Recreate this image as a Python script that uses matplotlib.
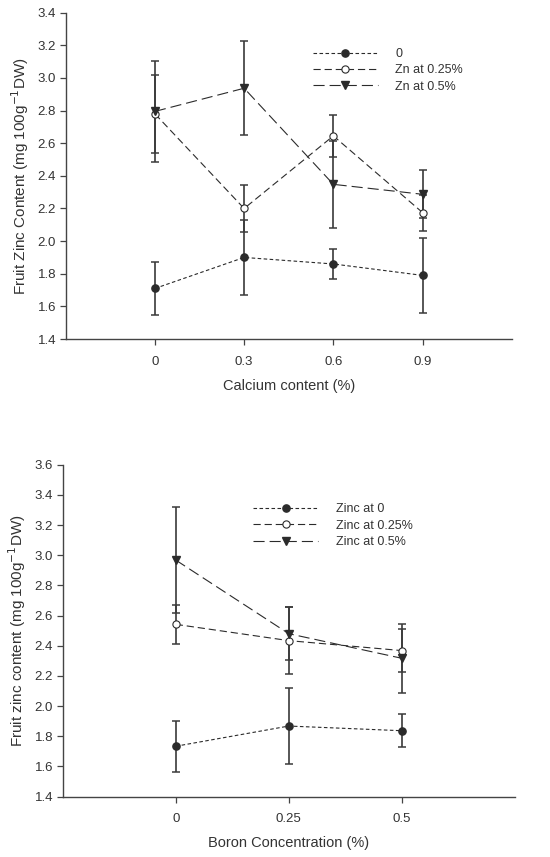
import matplotlib
matplotlib.use('Agg')
import matplotlib.pyplot as plt
import numpy as np

plt.rcParams['font.family'] = ['Liberation Sans', 'DejaVu Sans']

# top panel: calcium
ca_x = [0, 0.3, 0.6, 0.9]
ca_zn0 = [1.71, 1.90, 1.86, 1.79]
ca_zn0_err = [0.16, 0.23, 0.09, 0.23]
ca_zn25 = [2.78, 2.20, 2.645, 2.175]
ca_zn25_err = [0.24, 0.145, 0.13, 0.11]
ca_zn50 = [2.795, 2.937, 2.348, 2.287]
ca_zn50_err = [0.31, 0.288, 0.268, 0.146]
ca_labels = ['0', 'Zn at 0.25%', 'Zn at 0.5%']
ca_ticks = ['0', '0.3', '0.6', '0.9']

# bottom panel: boron
b_x = [0, 0.25, 0.5]
b_zn0 = [1.734, 1.868, 1.837]
b_zn0_err = [0.168, 0.25, 0.108]
b_zn25 = [2.542, 2.434, 2.368]
b_zn25_err = [0.128, 0.22, 0.14]
b_zn50 = [2.968, 2.480, 2.317]
b_zn50_err = [0.35, 0.177, 0.23]
b_labels = ['Zinc at 0', 'Zinc at 0.25%', 'Zinc at 0.5%']
b_ticks = ['0', '0.25', '0.5']

ink = '#2b2b2b'
dashes = [(0, (3.2, 2.2)), (0, (6.5, 3.5)), (0, (10, 4.5))]
markers = [dict(marker='o', mfc=ink, mec=ink, ms=5.2),
           dict(marker='o', mfc='white', mec=ink, ms=5.2, mew=0.8),
           dict(marker='v', mfc=ink, mec=ink, ms=5.6)]

fig = plt.figure(figsize=(5.5, 8.57), dpi=100)


def panel(ax, x, ys, errs, labels, ticks, xlim, ylim, yticks, xlabel, ylabel, leg_anchor):
    handles = []
    for i, (y, e) in enumerate(zip(ys, errs)):
        ax.errorbar(x, y, yerr=e, fmt='none', ecolor='#3a3a3a', elinewidth=1.2,
                    capsize=3.2, capthick=1.1, zorder=2)
        h, = ax.plot(x, y, color=ink, lw=0.8, linestyle=dashes[i], zorder=3,
                     label=labels[i], **markers[i])
        handles.append(h)
    ax.set_xlim(*xlim)
    ax.set_ylim(*ylim)
    ax.set_xticks(x)
    ax.set_xticklabels(ticks)
    ax.set_yticks(yticks)
    ax.set_yticklabels(['%.1f' % v for v in yticks])
    for s in ['top', 'right']:
        ax.spines[s].set_visible(False)
    for s in ['left', 'bottom']:
        ax.spines[s].set_color('#444444')
        ax.spines[s].set_linewidth(1.0)
    ax.tick_params(direction='out', length=4, width=0.9, color='#444444',
                   labelsize=9.5, labelcolor='#333333', pad=3)
    ax.tick_params(axis='x', pad=8)
    ax.set_xlabel(xlabel, fontsize=10.5, color='#333333', labelpad=8)
    ax.set_ylabel(ylabel, fontsize=11, color='#333333', labelpad=5)
    ax.legend(handles=handles, loc='upper left', bbox_to_anchor=leg_anchor,
              frameon=False, fontsize=9, handlelength=5.2, handletextpad=1.4,
              labelspacing=0.35, labelcolor='#333333')


ax1 = fig.add_axes([0.1195, 0.6044, 0.811, 0.3808])
panel(ax1, ca_x, [ca_zn0, ca_zn25, ca_zn50], [ca_zn0_err, ca_zn25_err, ca_zn50_err],
      ca_labels, ca_ticks, (-0.3, 1.2), (1.4, 3.4), np.arange(1.4, 3.41, 0.2),
      'Calcium content (%)',
      'Fruit Zinc Content (mg 100g$^{-1}$DW)', (0.529, 0.926))

ax2 = fig.add_axes([0.114, 0.0704, 0.822, 0.3874])
panel(ax2, b_x, [b_zn0, b_zn25, b_zn50], [b_zn0_err, b_zn25_err, b_zn50_err],
      b_labels, b_ticks, (-0.25, 0.75), (1.4, 3.6), np.arange(1.4, 3.61, 0.2),
      'Boron Concentration (%)',
      'Fruit zinc content (mg 100g$^{-1}$DW)', (0.397, 0.918))

fig.savefig('out.png', dpi=100, facecolor='white')
